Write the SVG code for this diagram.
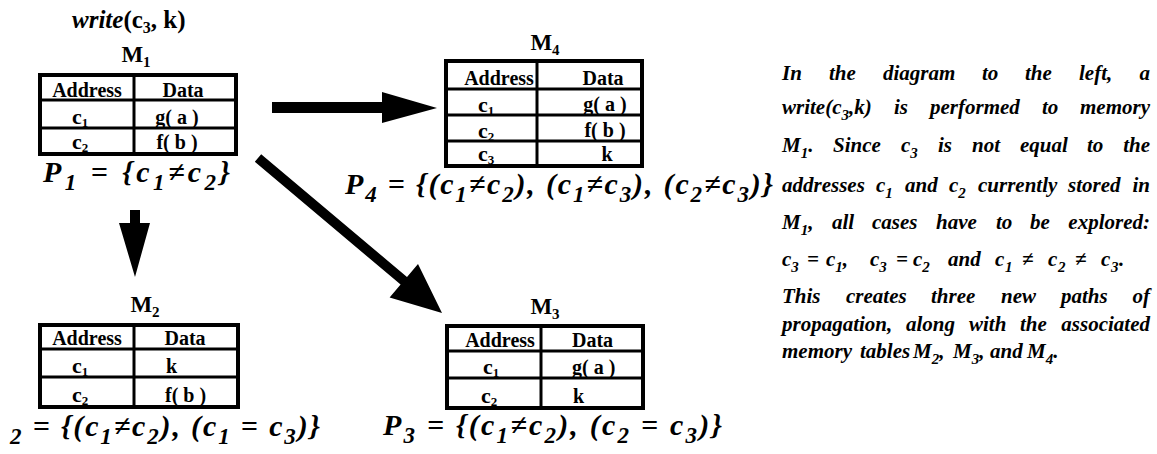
<svg xmlns="http://www.w3.org/2000/svg" width="1157" height="454" viewBox="0 0 1157 454">
<style>
text { font-family: "Liberation Serif", "Times New Roman", serif; fill: #000; }
.lbl { font-weight: bold; font-size: 23px; }
.lsub { font-size: 15px; }
.cell { font-weight: bold; font-size: 20px; }
.cc { font-weight: bold; font-size: 22px; }
.csub { font-size: 13px; }
.tbl { fill: #fff; stroke: #000; stroke-width: 4; }
.ln { stroke: #000; stroke-width: 3; }
.p { font-weight: bold; font-style: italic; font-size: 30px; }
.ps { font-size: 23px; }
.para { font-weight: bold; font-style: italic; font-size: 21px; }
.s { font-size: 15px; }
.arrow { fill: #000; stroke: none; }
</style>
<rect x="0" y="0" width="1157" height="454" fill="#fff"/>

<text id="title" x="72" y="28" font-size="25" font-weight="bold"><tspan font-style="italic">write</tspan>(c<tspan font-size="16" dy="5">3</tspan><tspan dy="-5">, k)</tspan></text>

<g id="M1">
  <text class="lbl" x="136" y="62" text-anchor="middle">M<tspan class="lsub" dy="5">1</tspan></text>
  <rect class="tbl" x="40" y="75" width="196" height="79"/>
  <line class="ln" x1="40" y1="100" x2="236" y2="100"/>
  <line class="ln" x1="40" y1="128" x2="236" y2="128"/>
  <line class="ln" x1="134" y1="75" x2="134" y2="154"/>
  <text class="cell" x="87" y="97" text-anchor="middle">Address</text>
  <text class="cell" x="183" y="97" text-anchor="middle">Data</text>
  <text class="cc" x="72" y="124">c<tspan class="csub" dy="3">1</tspan></text>
  <text class="cell" x="177" y="124" text-anchor="middle">g( a )</text>
  <text class="cc" x="72" y="149">c<tspan class="csub" dy="3">2</tspan></text>
  <text class="cell" x="177" y="149" text-anchor="middle">f( b )</text>
  <text class="p" x="43" y="182" textLength="187" lengthAdjust="spacing">P<tspan class="ps" dy="8">1</tspan><tspan dy="-8"> = {c</tspan><tspan class="ps" dy="8">1</tspan><tspan dy="-8">≠c</tspan><tspan class="ps" dy="8">2</tspan><tspan dy="-8">}</tspan></text>
</g>

<g id="M4">
  <text class="lbl" x="545" y="50" text-anchor="middle">M<tspan class="lsub" dy="5">4</tspan></text>
  <rect class="tbl" x="446" y="61" width="196" height="105"/>
  <line class="ln" x1="446" y1="89" x2="642" y2="89"/>
  <line class="ln" x1="446" y1="115" x2="642" y2="115"/>
  <line class="ln" x1="446" y1="141" x2="642" y2="141"/>
  <line class="ln" x1="537" y1="61" x2="537" y2="166"/>
  <text class="cell" x="499" y="85" text-anchor="middle">Address</text>
  <text class="cell" x="603" y="85" text-anchor="middle">Data</text>
  <text class="cc" x="478" y="112">c<tspan class="csub" dy="3">1</tspan></text>
  <text class="cell" x="605" y="111" text-anchor="middle">g( a )</text>
  <text class="cc" x="478" y="138">c<tspan class="csub" dy="3">2</tspan></text>
  <text class="cell" x="605" y="137" text-anchor="middle">f( b )</text>
  <text class="cc" x="478" y="161">c<tspan class="csub" dy="3">3</tspan></text>
  <text class="cell" x="607" y="161" text-anchor="middle">k</text>
  <text class="p" x="345" y="194" textLength="428" lengthAdjust="spacing">P<tspan class="ps" dy="8">4</tspan><tspan dy="-8"> = {(c</tspan><tspan class="ps" dy="8">1</tspan><tspan dy="-8">≠c</tspan><tspan class="ps" dy="8">2</tspan><tspan dy="-8">), (c</tspan><tspan class="ps" dy="8">1</tspan><tspan dy="-8">≠c</tspan><tspan class="ps" dy="8">3</tspan><tspan dy="-8">), (c</tspan><tspan class="ps" dy="8">2</tspan><tspan dy="-8">≠c</tspan><tspan class="ps" dy="8">3</tspan><tspan dy="-8">)}</tspan></text>
</g>

<g id="M2">
  <text class="lbl" x="145" y="312" text-anchor="middle">M<tspan class="lsub" dy="5">2</tspan></text>
  <rect class="tbl" x="40" y="325" width="198" height="82"/>
  <line class="ln" x1="40" y1="349" x2="238" y2="349"/>
  <line class="ln" x1="40" y1="377" x2="238" y2="377"/>
  <line class="ln" x1="134" y1="325" x2="134" y2="407"/>
  <text class="cell" x="87" y="345" text-anchor="middle">Address</text>
  <text class="cell" x="185" y="345" text-anchor="middle">Data</text>
  <text class="cc" x="72" y="373">c<tspan class="csub" dy="3">1</tspan></text>
  <text class="cell" x="166" y="373">k</text>
  <text class="cc" x="72" y="402">c<tspan class="csub" dy="3">2</tspan></text>
  <text class="cell" x="165" y="402">f( b )</text>
  <text class="p" x="10" y="436" textLength="310" lengthAdjust="spacing"><tspan class="ps" dy="8">2</tspan><tspan dy="-8"> = {(c</tspan><tspan class="ps" dy="8">1</tspan><tspan dy="-8">≠c</tspan><tspan class="ps" dy="8">2</tspan><tspan dy="-8">), (c</tspan><tspan class="ps" dy="8">1</tspan><tspan dy="-8"> = c</tspan><tspan class="ps" dy="8">3</tspan><tspan dy="-8">)}</tspan></text>
</g>

<g id="M3">
  <text class="lbl" x="545" y="314" text-anchor="middle">M<tspan class="lsub" dy="5">3</tspan></text>
  <rect class="tbl" x="447" y="326" width="196" height="82"/>
  <line class="ln" x1="447" y1="351" x2="643" y2="351"/>
  <line class="ln" x1="447" y1="378" x2="643" y2="378"/>
  <line class="ln" x1="541" y1="326" x2="541" y2="408"/>
  <text class="cell" x="500" y="347" text-anchor="middle">Address</text>
  <text class="cell" x="572" y="347">Data</text>
  <text class="cc" x="483" y="374">c<tspan class="csub" dy="3">1</tspan></text>
  <text class="cell" x="572" y="374">g( a )</text>
  <text class="cc" x="481" y="403">c<tspan class="csub" dy="3">2</tspan></text>
  <text class="cell" x="573" y="403">k</text>
  <text class="p" x="383" y="435" textLength="339" lengthAdjust="spacing">P<tspan class="ps" dy="8">3</tspan><tspan dy="-8"> = {(c</tspan><tspan class="ps" dy="8">1</tspan><tspan dy="-8">≠c</tspan><tspan class="ps" dy="8">2</tspan><tspan dy="-8">), (c</tspan><tspan class="ps" dy="8">2</tspan><tspan dy="-8"> = c</tspan><tspan class="ps" dy="8">3</tspan><tspan dy="-8">)}</tspan></text>
</g>

<g id="connectors">
  <path class="arrow" d="M272,102 H382 V92 L437,108 L382,123 V113 H272 Z"/>
  <path class="arrow" d="M130,210 H140 V223 H150 L135,277 L119,223 H130 Z"/>
  <path class="arrow" d="M261.2,154.2 L407,277 L418,264 L442,313 L389.6,297.6 L400.6,284.6 L254.8,161.8 Z"/>
</g>

<g id="caption" class="para">
  <text class="para" y="80"><tspan x="782">In</tspan><tspan x="829">the</tspan><tspan x="883">diagram</tspan><tspan x="982">to</tspan><tspan x="1025">the</tspan><tspan x="1079">left,</tspan><tspan x="1150" text-anchor="end">a</tspan></text>
  <text class="para" y="114"><tspan x="782">write(c<tspan class="s" dy="6">3</tspan><tspan dy="-6">,k)</tspan></tspan><tspan x="894">is</tspan><tspan x="930">performed</tspan><tspan x="1042">to</tspan><tspan x="1150" text-anchor="end">memory</tspan></text>
  <text class="para" y="152"><tspan x="782">M<tspan class="s" dy="6">1</tspan><tspan dy="-6">.</tspan></tspan><tspan x="833">Since</tspan><tspan x="901">c<tspan class="s" dy="6">3</tspan></tspan><tspan x="938" dy="-6">is</tspan><tspan x="972">not</tspan><tspan x="1020">equal</tspan><tspan x="1087">to</tspan><tspan x="1150" text-anchor="end">the</tspan></text>
  <text class="para" y="192"><tspan x="782">addresses</tspan><tspan x="876">c<tspan class="s" dy="6">1</tspan></tspan><tspan x="905" dy="-6">and</tspan><tspan x="949">c<tspan class="s" dy="6">2</tspan></tspan><tspan x="978" dy="-6">currently</tspan><tspan x="1068">stored</tspan><tspan x="1150" text-anchor="end">in</tspan></text>
  <text class="para" y="229"><tspan x="782">M<tspan class="s" dy="6">1</tspan><tspan dy="-6">,</tspan></tspan><tspan x="832">all</tspan><tspan x="872">cases</tspan><tspan x="936">have</tspan><tspan x="996">to</tspan><tspan x="1030">be</tspan><tspan x="1150" text-anchor="end">explored:</tspan></text>
  <text class="para" y="266"><tspan x="782">c<tspan class="s" dy="6">3</tspan></tspan><tspan x="807" dy="-6">=</tspan><tspan x="826">c<tspan class="s" dy="6">1</tspan><tspan dy="-6">,</tspan></tspan><tspan x="870">c<tspan class="s" dy="6">3</tspan></tspan><tspan x="896" dy="-6">=</tspan><tspan x="913">c<tspan class="s" dy="6">2</tspan></tspan><tspan x="948" dy="-6">and</tspan><tspan x="995">c</tspan><tspan x="1005" class="s" dy="6">1</tspan><tspan x="1022" dy="-6">≠</tspan><tspan x="1048">c</tspan><tspan x="1058" class="s" dy="6">2</tspan><tspan x="1075" dy="-6">≠</tspan><tspan x="1101">c</tspan><tspan x="1111" class="s" dy="6">3</tspan><tspan x="1119" dy="-6">.</tspan></text>
  <text class="para" y="303"><tspan x="782">This</tspan><tspan x="846">creates</tspan><tspan x="931">three</tspan><tspan x="1001">new</tspan><tspan x="1061">paths</tspan><tspan x="1150" text-anchor="end">of</tspan></text>
  <text class="para" y="331"><tspan x="782">propagation,</tspan><tspan x="906">along</tspan><tspan x="969">with</tspan><tspan x="1020">the</tspan><tspan x="1150" text-anchor="end">associated</tspan></text>
  <text class="para" y="358"><tspan x="782">memory</tspan><tspan x="860">tables</tspan><tspan x="913">M<tspan class="s" dy="6">2</tspan><tspan dy="-6">,</tspan></tspan><tspan x="953">M<tspan class="s" dy="6">3</tspan><tspan dy="-6">,</tspan></tspan><tspan x="990">and</tspan><tspan x="1027">M<tspan class="s" dy="6">4</tspan><tspan dy="-6">.</tspan></tspan></text>
</g>
</svg>
